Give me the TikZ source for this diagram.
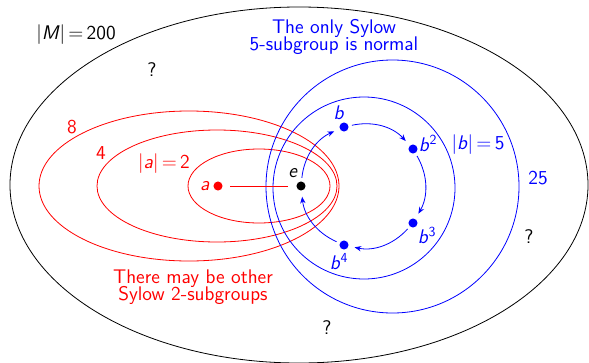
\documentclass[tikz,border=0pt]{standalone}
\usepackage{fontspec}
\usetikzlibrary{arrows.meta}
\definecolor{sylRed}{HTML}{FF0000}
\definecolor{sylBlue}{HTML}{0000FF}
\tikzset{
  syl line/.style={line width=0.6pt},
  syl dot/.style={circle, inner sep=0pt, minimum size=6.8pt},
  syl arrow/.style={draw=sylBlue, line width=0.6pt, -{Stealth[length=5pt,width=4pt]}, shorten <=2.5pt, shorten >=4.5pt, bend left=30},
  syl label/.style={font=\fontsize{14.8}{13}\selectfont\sffamily, inner sep=1pt},
}

\begin{document}
\begin{tikzpicture}[x=.75pt,y=.75pt]
  \useasboundingbox (0,0) rectangle (589,362);
  \draw[syl line] (299,177) ellipse [x radius=289, y radius=178];
  % red ellipses: centre x / x radius / y radius
  \foreach \cx/\rx/\ry in {259/71/37, 217/120/56, 189/150/75}{\draw[syl line,sylRed] (\cx,176) ellipse [x radius=\rx, y radius=\ry];}
  \draw[syl line,sylBlue] (392.5,175.5) circle [radius=126.5];
  \draw[syl line,sylBlue] (364,174) circle [radius=91];
  % elements
  \node[syl dot,fill=black] (e) at (301,176) {};
  \node[syl dot,fill=sylRed] (a) at (218,176) {};
  \foreach \n/\x/\y in {b/344/235, b2/413/213, b3/413/139, b4/344/117}{\node[syl dot,fill=sylBlue] (\n) at (\x,\y) {};}
  \draw[syl line,sylRed,shorten <=5.5pt,shorten >=6pt] (a) -- (e);
  \foreach \s/\t in {e/b, b/b2, b2/b3, b3/b4, b4/e}{\draw[syl arrow] (\s) to (\t);}
  % labels
  \node[syl label] (lM) at (76,327) {|\textit{M}|\,=\,200};
  \node[syl label,text=sylRed] (la) at (205,176) {\textit{a}};
  \node[syl label] (le) at (293,189) {\textit{e}};
  \node[syl label,text=sylRed] (lA) at (164,198) {|\textit{a}|\,=\,2};
  \node[syl label,text=sylRed] (l4) at (101,209) {4};
  \node[syl label,text=sylRed] (l8) at (72,235) {8};
  \node[syl label,text=sylBlue] (lb) at (339,249) {\textit{b}};
  \node[syl label,text=sylBlue] (lb2) at (428,219) {\textit{b}\textsuperscript{2}};
  \node[syl label,text=sylBlue] (lb3) at (427,127) {\textit{b}\textsuperscript{3}};
  \node[syl label,text=sylBlue] (lb4) at (339,100) {\textit{b}\textsuperscript{4}};
  \node[syl label,text=sylBlue] (lB) at (478,217) {|\textit{b}|\,=\,5};
  \node[syl label,text=sylBlue] (l25) at (538,184) {25};
  \node[syl label,text=sylBlue,align=center] (top) at (334,325) {The only Sylow\\[-2pt]5-subgroup is normal};
  \node[syl label,text=sylRed,align=center] (other) at (193,75) {There may be other\\[-2pt]Sylow 2-subgroups};
  \foreach \x/\y [count=\i] in {152/292, 529/125, 327/34}{\node[syl label] (q\i) at (\x,\y) {?};}
\end{tikzpicture}
\end{document}
